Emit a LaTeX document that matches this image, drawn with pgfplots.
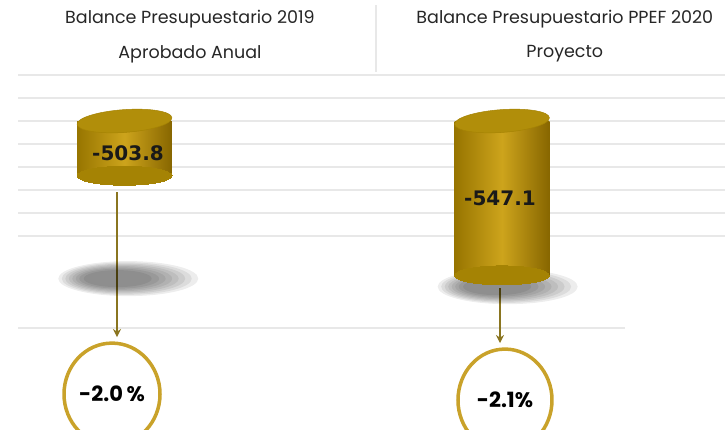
\documentclass[border=0pt]{standalone}
\usepackage{pgfplots}
\pgfplotsset{compat=1.18}
\usepackage{fontspec}
\setmainfont{Poppins}
\newfontfamily\numf{DejaVu Sans}
\usetikzlibrary{shapes.geometric,arrows.meta}
\definecolor{goldL}{HTML}{CDA41C}
\definecolor{goldD}{HTML}{977500}
\definecolor{goldD2}{HTML}{876600}
\definecolor{goldM}{HTML}{A58304}
\definecolor{goldT}{HTML}{B18E0A}
\definecolor{arrowc}{HTML}{8A7520}
\definecolor{circc}{HTML}{C9A22A}
\definecolor{gridc}{HTML}{E8E8E8}
\pgfplotsset{shadowmark/.style={only marks, mark=*, mark size=#1, mark options={draw opacity=0, fill=black, fill opacity=0.07, yscale=0.25}}}
\begin{document}
\begin{tikzpicture}
\useasboundingbox (0,0) rectangle (725pt,430pt);
\clip (0,0) rectangle (725pt,430pt);
\begin{axis}[at={(0pt,0pt)}, anchor=south west, scale only axis,
  width=725pt, height=430pt,
  xmin=-0.3298, xmax=1.5907, ymin=-614.3, ymax=-427.4,
  axis lines=none, clip=false]
% gridlines
\addplot[gridc, line width=1.3pt] coordinates {(-0.2821,-460) (1.5907,-460)};
\addplot[gridc, line width=1.3pt] coordinates {(-0.2821,-470) (1.5907,-470)};
\addplot[gridc, line width=1.3pt] coordinates {(-0.2821,-480) (1.5907,-480)};
\addplot[gridc, line width=1.3pt] coordinates {(-0.2821,-490) (1.5907,-490)};
\addplot[gridc, line width=1.3pt] coordinates {(-0.2821,-500) (1.5907,-500)};
\addplot[gridc, line width=1.3pt] coordinates {(-0.2821,-510) (1.5907,-510)};
\addplot[gridc, line width=1.3pt] coordinates {(-0.2821,-520) (1.5907,-520)};
\addplot[gridc, line width=1.3pt] coordinates {(-0.2821,-530) (1.5907,-530)};
\addplot[gridc, line width=1.3pt] coordinates {(-0.2821,-570) (1.3258,-570)};
% header separator
\draw[gridc, line width=1.2pt] (rel axis cs:0.5186,0.988) -- (rel axis cs:0.5186,0.833);
% headers
\node[font=\fontsize{17.5}{17.5}\selectfont, text=black!85] at (rel axis cs:0.262,0.9558) {Balance Presupuestario 2019};
\node[font=\fontsize{17.5}{17.5}\selectfont, text=black!85] at (rel axis cs:0.262,0.8744) {Aprobado Anual};
\node[font=\fontsize{17.5}{17.5}\selectfont, text=black!85] at (rel axis cs:0.779,0.9558) {Balance Presupuestario PPEF 2020};
\node[font=\fontsize{17.5}{17.5}\selectfont, text=black!85] at (rel axis cs:0.779,0.8744) {Proyecto};
% shadows (soft, layered)
\addplot[shadowmark=70pt] coordinates {(0.01,-548.5) (1.015,-552)};
\addplot[shadowmark=65pt] coordinates {(0.006,-548.5) (1.011,-552)};
\addplot[shadowmark=60pt] coordinates {(0.002,-548.5) (1.007,-552)};
\addplot[shadowmark=55pt] coordinates {(-0.002,-548.5) (1.003,-552)};
\addplot[shadowmark=50pt] coordinates {(-0.006,-548.5) (0.999,-552)};
\addplot[shadowmark=45pt] coordinates {(-0.010,-548.5) (0.995,-552)};
\addplot[shadowmark=40pt] coordinates {(-0.014,-548.5) (0.991,-552)};
\addplot[shadowmark=34pt] coordinates {(-0.018,-548.5) (0.987,-552)};
% bar bottoms
\addplot[only marks, mark=*, mark size=47.5pt, mark options={draw=goldM, line width=0pt, fill=goldM, yscale=0.2}] coordinates {(0,-503.8) (1,-547.1)};
% bar bodies
\addplot[draw=none, left color=goldD, right color=goldD2, middle color=goldL] coordinates {(-0.1258,-480) (-0.1258,-503.8) (0.1258,-503.8) (0.1258,-480)} -- cycle;
\addplot[draw=none, left color=goldD, right color=goldD2, middle color=goldL] coordinates {(0.8742,-480) (0.8742,-547.1) (1.1258,-547.1) (1.1258,-480)} -- cycle;
% bar tops
\addplot[only marks, mark=*, mark size=47.5pt, mark options={draw=goldM, line width=0.5pt, fill=goldT, rotate=4, yscale=0.24}] coordinates {(0,-480) (1,-480)};
% value labels
\node[font=\numf\bfseries\fontsize{20}{20}\selectfont, text=black!90] at (axis cs:0.0093,-493.9) {-503.8};
\node[font=\numf\bfseries\fontsize{20}{20}\selectfont, text=black!90] at (axis cs:0.9947,-513.5) {-547.1};
% arrows
\addplot[arrowc, line width=1.6pt, -{Stealth[length=8pt,width=8pt]}] coordinates {(-0.0199,-510.9) (-0.0199,-573.9)};
\addplot[arrowc, line width=1.6pt, -{Stealth[length=8pt,width=8pt]}] coordinates {(0.9947,-552.6) (0.9947,-576.5)};
% percent circles
\node[ellipse, draw=circc, line width=3.5pt, fill=white, minimum width=96pt, minimum height=102pt, inner sep=0pt, font=\bfseries\fontsize{21}{21}\selectfont] at (axis cs:-0.0331,-598.7) {-2.0\,\%};
\node[ellipse, draw=circc, line width=3.5pt, fill=white, minimum width=94pt, minimum height=102pt, inner sep=0pt, font=\bfseries\fontsize{21}{21}\selectfont] at (axis cs:1.0079,-601.3) {-2.1\%};
\end{axis}
\end{tikzpicture}
\end{document}
